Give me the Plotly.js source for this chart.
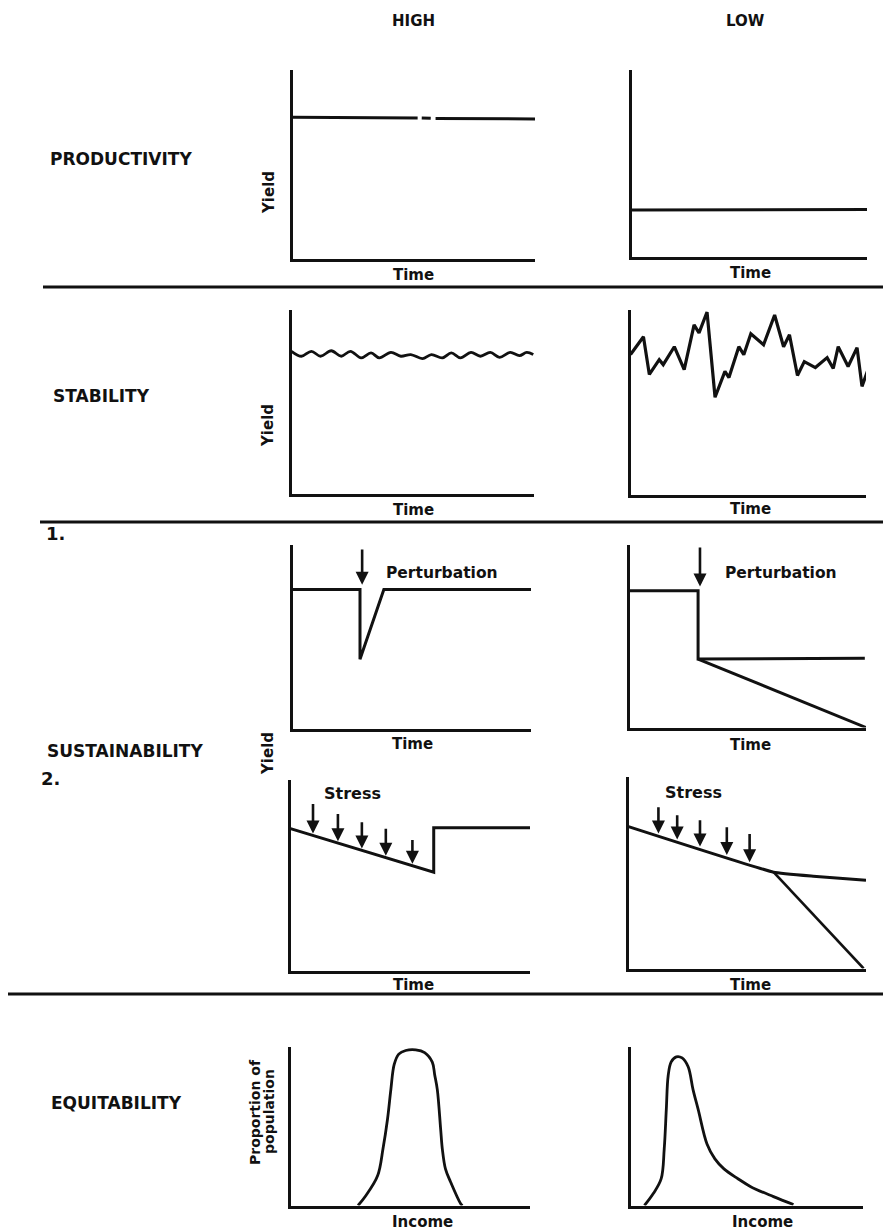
<!DOCTYPE html>
<html><head><meta charset="utf-8">
<script src="https://cdn.plot.ly/plotly-3.0.1.min.js"></script>
<style>html,body{margin:0;padding:0;background:#fff}</style>
</head><body>
<div id="chart" style="width:883px;height:1230px"></div>
<script>
// ---------------- data (axes 0..10) ----------------
const colLabels = ['HIGH', 'LOW'];
const rowLabels = ['PRODUCTIVITY', 'STABILITY', 'SUSTAINABILITY', 'EQUITABILITY'];
const subLabels = ['1.', '2.'];
const timeLabel = 'Time';
const yieldLabel = 'Yield';
const incomeLabel = 'Income';
const propLabel1 = 'Proportion of';
const propLabel2 = 'population';
const perturbLabel = 'Perturbation';
const stressLabel = 'Stress';

// Productivity
const prodHighX = [0, 5.16, null, 5.33, 5.70, null, 5.90, 10];
const prodHighY = [7.50, 7.46, null, 7.45, 7.44, null, 7.43, 7.40];
const prodLowX = [0, 10];
const prodLowY = [2.50, 2.52];

// Stability
const stabHighX = [0, 0.41, 0.82, 1.20, 1.64, 2.05, 2.43, 2.87, 3.28, 3.62, 4.10, 4.51, 4.92, 5.40, 5.77, 6.22, 6.59, 6.97, 7.40, 7.79, 8.20, 8.58, 9.02, 9.40, 9.70, 9.97];
const stabHighY = [7.75, 7.48, 7.75, 7.48, 7.78, 7.48, 7.75, 7.39, 7.66, 7.39, 7.69, 7.48, 7.57, 7.35, 7.57, 7.39, 7.66, 7.39, 7.69, 7.48, 7.69, 7.42, 7.69, 7.51, 7.69, 7.57];
const stabLowX = [0, 0.55, 0.80, 1.22, 1.39, 1.86, 2.28, 2.70, 2.91, 3.25, 3.59, 4.01, 4.18, 4.60, 4.81, 5.11, 5.65, 6.12, 6.50, 6.75, 7.09, 7.38, 7.85, 8.35, 8.61, 8.82, 9.24, 9.62, 9.83, 10.30];
const stabLowY = [7.58, 8.55, 6.51, 7.31, 7.04, 8.01, 6.77, 9.19, 8.76, 9.89, 5.27, 6.67, 6.34, 8.01, 7.58, 8.71, 8.12, 9.73, 8.01, 8.66, 6.45, 7.20, 6.88, 7.42, 6.83, 8.01, 6.94, 7.96, 5.86, 7.53];

// Sustainability 1 (perturbation)
const sust1HighX = [0, 2.83, 2.83, 3.83, 10];
const sust1HighY = [7.57, 7.57, 3.78, 7.57, 7.57];
const sust1LowX = [0, 2.90, 2.90, 9.95];
const sust1LowY = [7.50, 7.50, 3.75, 3.80];
const sust1LowBranchX = [2.90, 10];
const sust1LowBranchY = [3.75, 0];
const perturbX = [2.92, 2.98];     // high, low
const perturbTop = [9.84, 9.95];
const perturbTip = [7.84, 7.72];

// Sustainability 2 (stress)
const sust2HighX = [0, 5.98, 5.98, 10];
const sust2HighY = [7.45, 5.16, 7.50, 7.50];
const stressHighX = [0.94, 1.98, 2.98, 3.98, 5.09];
const stressHighTop = [8.82, 8.30, 7.86, 7.52, 6.93];
const stressHighTip = [7.19, 6.79, 6.41, 6.03, 5.60];
const sust2LowX = [0, 6.11, 7.78, 10];
const sust2LowY = [7.41, 5.03, 4.82, 4.61];
const sust2LowBranchX = [6.11, 9.90];
const sust2LowBranchY = [5.03, 0];
const stressLowX = [1.26, 2.05, 3.01, 4.14, 5.10];
const stressLowTop = [8.50, 8.08, 7.82, 7.46, 7.10];
const stressLowTip = [7.05, 6.74, 6.37, 5.93, 5.55];

// Equitability (income distribution)
const eqHighX = [2.82, 3.15, 3.64, 3.86, 4.05, 4.19, 4.33, 4.52, 4.81, 5.23, 5.60, 5.92, 6.02, 6.13, 6.27, 6.34, 6.47, 6.68, 7.10, 7.18];
const eqHighY = [0, 0.63, 1.89, 3.56, 5.44, 7.31, 8.90, 9.55, 9.78, 9.82, 9.65, 9.05, 8.25, 7.31, 4.81, 3.56, 2.31, 1.50, 0.13, 0];
const eqLowX = [0.60, 0.98, 1.32, 1.45, 1.54, 1.62, 1.75, 1.97, 2.22, 2.48, 2.69, 2.91, 3.29, 3.63, 4.02, 4.62, 5.17, 6.15, 7.01];
const eqLowY = [0, 0.75, 1.69, 3.56, 6.06, 8.19, 9.06, 9.38, 9.31, 8.75, 7.31, 6.06, 3.88, 2.94, 2.31, 1.69, 1.19, 0.56, 0.06];

// ---------------- layout helpers ----------------
const W = 883, H = 1230;
const px = x => x / W;
const py = y => 1 - y / H;
const INK = '#111';
const FONT = 'DejaVu Sans, Liberation Sans, sans-serif';

// panel frames in pixels: left, right, top, bottom
const panels = [
  [291, 535, 70, 260], [630, 867, 70, 258],
  [290, 534, 310, 495], [629, 866, 310, 496],
  [291, 531, 545, 730], [628, 866, 545, 729],
  [289, 530, 780, 972], [627, 866, 777, 970],
  [289, 530, 1047, 1207], [629, 863, 1047, 1207]
];

const layout = {
  width: W, height: H,
  margin: {l: 0, r: 0, t: 0, b: 0},
  paper_bgcolor: '#fff', plot_bgcolor: 'rgba(0,0,0,0)',
  showlegend: false,
  shapes: [], annotations: []
};

panels.forEach((p, i) => {
  const n = i === 0 ? '' : String(i + 1);
  const common = {range: [0, 10], showgrid: false, zeroline: false, showticklabels: false,
    ticks: '', showline: true, linewidth: 3, linecolor: INK, fixedrange: true};
  layout['xaxis' + n] = Object.assign({}, common, {
    domain: [px(p[0] + 1.5), px(p[1])], anchor: 'y' + n});
  layout['yaxis' + n] = Object.assign({}, common, {
    domain: [py(p[3] - 1.5), py(p[2])], anchor: 'x' + n});
});

function ax(i) { return i === 1 ? '' : String(i); }
function line(x, y, i, extra) {
  return Object.assign({x: x, y: y, xaxis: 'x' + ax(i), yaxis: 'y' + ax(i), mode: 'lines',
    line: {color: INK, width: 3}, hoverinfo: 'skip', connectgaps: false}, extra || {});
}

const data = [
  line(prodHighX, prodHighY, 1),
  line(prodLowX, prodLowY, 2),
  line(stabHighX, stabHighY, 3, {line: {color: INK, width: 2.8, shape: 'spline', smoothing: 1}}),
  line(stabLowX, stabLowY, 4, {line: {color: INK, width: 3.2}}),
  line(sust1HighX, sust1HighY, 5),
  line(sust1LowX, sust1LowY, 6),
  line(sust1LowBranchX, sust1LowBranchY, 6),
  line(sust2HighX, sust2HighY, 7),
  line(sust2LowX, sust2LowY, 8, {line: {color: INK, width: 3, shape: 'spline', smoothing: 0.3}}),
  line(sust2LowBranchX, sust2LowBranchY, 8, {line: {color: INK, width: 2.6}}),
  line(eqHighX, eqHighY, 9, {line: {color: INK, width: 2.8, shape: 'spline', smoothing: 1}}),
  line(eqLowX, eqLowY, 10, {line: {color: INK, width: 2.8, shape: 'spline', smoothing: 1}})
];

// separators
[[43, 287], [40, 522], [8, 994]].forEach(s => {
  layout.shapes.push({type: 'line', xref: 'paper', yref: 'paper',
    x0: px(s[0]), x1: 1, y0: py(s[1]), y1: py(s[1]), line: {color: INK, width: 3}});
});

function txt(t, x, y, size, opts) {
  layout.annotations.push(Object.assign({text: t, xref: 'paper', yref: 'paper',
    x: px(x), y: py(y), showarrow: false, xanchor: 'center', yanchor: 'middle',
    font: {family: FONT, size: size, color: INK, weight: 'bold'}}, opts || {}));
}

// column headers
txt(colLabels[0], 413, 21, 15);
txt(colLabels[1], 745, 21, 15);
// row labels
txt(rowLabels[0], 48, 159, 17, {xanchor: 'left'});
txt(rowLabels[1], 51, 396, 17, {xanchor: 'left'});
txt(rowLabels[2], 45, 751, 17, {xanchor: 'left'});
txt(rowLabels[3], 49, 1103, 17, {xanchor: 'left'});
txt(subLabels[0], 44, 533, 18, {xanchor: 'left'});
txt(subLabels[1], 39, 778, 18, {xanchor: 'left'});

// axis labels
[[413, 275], [750, 273], [413, 510], [750, 509], [412, 744], [750, 745], [413, 985], [750, 985]]
  .forEach(p => txt(timeLabel, p[0], p[1], 15));
txt(incomeLabel, 422, 1222, 15);
txt(incomeLabel, 762, 1222, 15);
txt(yieldLabel, 269, 193, 15, {textangle: -90});
txt(yieldLabel, 268, 426, 15, {textangle: -90});
txt(yieldLabel, 268, 754, 15, {textangle: -90});
txt(propLabel1, 255, 1112, 14, {textangle: -90});
txt(propLabel2, 269, 1112, 14, {textangle: -90});

// panel-internal labels
function dtxt(t, i, x, y, size, opts) {
  layout.annotations.push(Object.assign({text: t, xref: 'x' + ax(i), yref: 'y' + ax(i),
    x: x, y: y, showarrow: false, xanchor: 'left', yanchor: 'middle',
    font: {family: FONT, size: size, color: INK, weight: 'bold'}}, opts || {}));
}
dtxt(perturbLabel, 5, 3.85, 8.49, 15.5);
dtxt(perturbLabel, 6, 3.94, 8.48, 15.5);
dtxt(stressLabel, 7, 2.57, 9.27, 16, {xanchor: 'center'});
dtxt(stressLabel, 8, 2.72, 9.17, 16, {xanchor: 'center'});

// arrows
function arrow(i, x, top, tip, w) {
  layout.annotations.push({text: '', xref: 'x' + ax(i), yref: 'y' + ax(i),
    axref: 'x' + ax(i), ayref: 'y' + ax(i), x: x, y: tip, ax: x, ay: top,
    showarrow: true, arrowhead: 2, arrowsize: 1, arrowwidth: w, arrowcolor: INK});
}
arrow(5, perturbX[0], perturbTop[0], perturbTip[0], 2.6);
arrow(6, perturbX[1], perturbTop[1], perturbTip[1], 2.6);
stressHighX.forEach((x, k) => arrow(7, x, stressHighTop[k], stressHighTip[k], 2.6));
stressLowX.forEach((x, k) => arrow(8, x, stressLowTop[k], stressLowTip[k], 2.6));

Plotly.newPlot('chart', data, layout, {staticPlot: true, displayModeBar: false});
</script>
</body></html>
